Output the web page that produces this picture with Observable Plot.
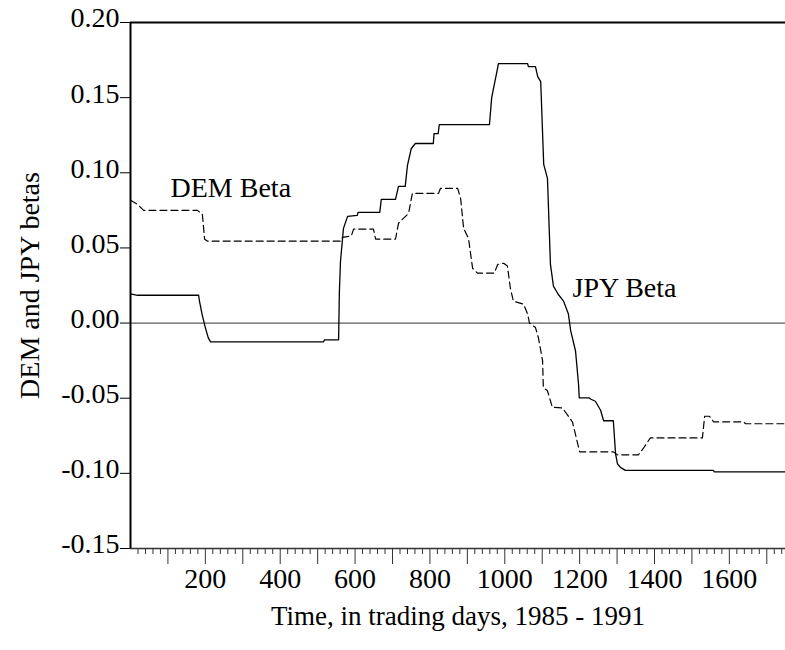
<!DOCTYPE html>
<html>
<head>
<meta charset="utf-8">
<script src="https://cdn.jsdelivr.net/npm/d3@7"></script>
<script src="https://cdn.jsdelivr.net/npm/@observablehq/plot@0.6"></script>
<style>
  html, body { margin: 0; padding: 0; background: #ffffff; }
  svg { display: block; }
</style>
</head>
<body>
<div id="chart"></div>
<script>
// ---- data ----
const jpyDays = [0,19,182,184,192,200,208,214,516,518,556,558,561,569,580,606,608,666,670,708,716,734,740,750,761,809,811,822,825,959,965,980,983,1061,1063,1082,1088,1096,1104,1114,1122,1130,1143,1157,1170,1176,1189,1197,1199,1226,1229,1242,1256,1264,1290,1296,1301,1309,1322,1557,1560,1750];
const jpyBeta = [0.0195,0.0185,0.0185,0.015,0.005,-0.003,-0.010,-0.0125,-0.0125,-0.0112,-0.0112,0.020,0.041,0.063,0.071,0.0717,0.0737,0.0737,0.0823,0.0823,0.091,0.091,0.105,0.116,0.1195,0.1195,0.126,0.126,0.132,0.132,0.150,0.1687,0.1726,0.1726,0.1706,0.1706,0.164,0.1607,0.1056,0.0963,0.039,0.0246,0.019,0.0146,0.006,-0.005,-0.0186,-0.0405,-0.0498,-0.0498,-0.0505,-0.052,-0.058,-0.065,-0.065,-0.087,-0.0936,-0.096,-0.098,-0.098,-0.099,-0.099];

const demDays = [0,19,35,179,192,198,206,561,566,590,596,649,655,708,716,721,743,753,823,828,874,882,890,903,914,927,972,981,997,1007,1015,1023,1050,1061,1066,1082,1090,1101,1103,1114,1127,1154,1170,1181,1200,1290,1301,1357,1371,1389,1528,1534,1547,1558,1638,1643,1750];
const demBeta = [0.0817,0.079,0.075,0.075,0.0724,0.0558,0.0545,0.0545,0.057,0.058,0.0625,0.0625,0.0558,0.0558,0.0664,0.0677,0.073,0.0863,0.0863,0.0896,0.0896,0.083,0.063,0.0564,0.0365,0.0332,0.0332,0.039,0.0398,0.038,0.023,0.0146,0.0126,0.006,0.0,-0.003,-0.010,-0.025,-0.043,-0.045,-0.056,-0.0565,-0.062,-0.066,-0.0857,-0.0857,-0.0877,-0.0877,-0.083,-0.0764,-0.0764,-0.062,-0.062,-0.0657,-0.0657,-0.067,-0.067];

const yTicks = [-0.15,-0.10,-0.05,0.00,0.05,0.10,0.15,0.20];
const xLabelTicks = [200,400,600,800,1000,1200,1400,1600];
const xMediumTicks = d3.range(100, 1750, 100);
const xMinorTicks = d3.range(20, 1750, 20).filter(d => d % 100 !== 0);

const seriesNames = ["DEM Beta", "JPY Beta"];
const seriesLabelDay = [107, 1181];
const seriesLabelBeta = [0.09, 0.0231];

const xTitle = "Time, in trading days, 1985 - 1991";
const yTitle = "DEM and JPY betas";

// ---- tables built from the arrays ----
const jpy = jpyDays.map((d, i) => ({day: d, beta: jpyBeta[i]}));
const dem = demDays.map((d, i) => ({day: d, beta: demBeta[i]}));
const labels = seriesNames.map((n, i) => ({name: n, day: seriesLabelDay[i], beta: seriesLabelBeta[i]}));
const noText = () => "";

const chart = Plot.plot({
  width: 785,
  height: 650,
  marginLeft: 130,
  marginRight: 0,
  marginTop: 22,
  marginBottom: 102,
  style: {fontFamily: "'Liberation Serif', 'Times New Roman', serif", fontSize: "28px", background: "#ffffff", color: "#000000", overflow: "visible"},
  x: {domain: [0, 1750], axis: null, label: null},
  y: {domain: [-0.15, 0.20], axis: null, label: null},
  marks: [
    // zero line
    Plot.ruleY([0], {stroke: "#5a5a5a", strokeWidth: 1.3}),
    // series
    Plot.line(jpy, {x: "day", y: "beta", stroke: "#000000", strokeWidth: 1.3}),
    Plot.line(dem, {x: "day", y: "beta", stroke: "#000000", strokeWidth: 1.2, strokeDasharray: "7,4"}),
    // frame lines
    Plot.ruleY([0.20], {stroke: "#000000", strokeWidth: 2}),
    Plot.ruleY([-0.15], {stroke: "#333333", strokeWidth: 1.5}),
    Plot.ruleX([0], {stroke: "#000000", strokeWidth: 2}),
    // y axis
    Plot.axisY({ticks: yTicks, tickSize: 10, tickFormat: noText, label: null, stroke: "#000000"}),
    Plot.axisY({ticks: yTicks, tickSize: 0, tickPadding: 11, tickFormat: d => d.toFixed(2), label: null, fontSize: 28, dy: -4}),
    // x axis
    Plot.axisX({ticks: xMinorTicks, tickSize: 6, tickFormat: noText, label: null, stroke: "#333333"}),
    Plot.axisX({ticks: xMediumTicks, tickSize: 16, tickFormat: noText, label: null, stroke: "#333333"}),
    Plot.axisX({ticks: xLabelTicks, tickSize: 0, tickPadding: 20, tickFormat: d => String(d), label: null, fontSize: 28}),
    // series labels
    Plot.text(labels, {x: "day", y: "beta", text: "name", textAnchor: "start", fontSize: 28, fill: "#000000"}),
    // axis titles
    Plot.text([xTitle], {frameAnchor: "bottom", textAnchor: "middle", dy: 76, fontSize: 27, fill: "#000000"}),
    Plot.text([yTitle], {frameAnchor: "left", textAnchor: "middle", dx: -100, rotate: -90, fontSize: 28, fill: "#000000"})
  ]
});
document.getElementById("chart").appendChild(chart);
</script>
</body>
</html>
